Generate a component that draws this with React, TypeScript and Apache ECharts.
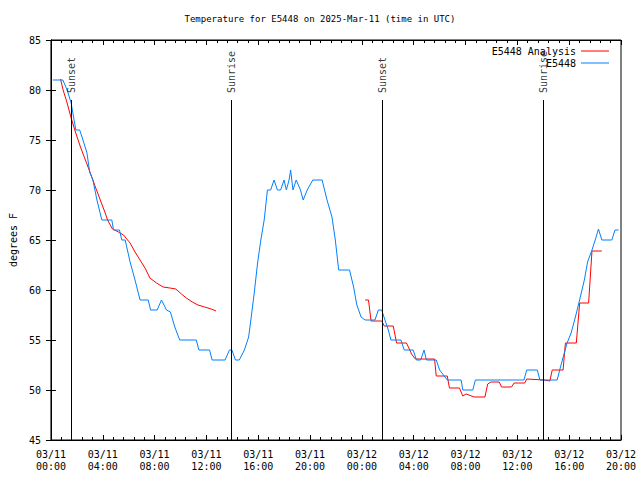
import React, { useEffect, useRef } from "react";
import * as echarts from "echarts";

const TITLE = "Temperature for E5448 on 2025-Mar-11 (time in UTC)";
const Y_NAME = "degrees F";
const SERIES_NAMES = ["E5448 Analysis", "E5448"];

// hours since 03/11 00:00 UTC
const OBS_HOURS = [0.15, 0.92, 1.25, 1.56, 1.76, 1.92, 2.22, 2.4, 2.78, 2.99, 3.24, 3.55, 3.93, 4.7, 4.83, 5.29, 5.47, 5.73, 6.11, 6.49, 6.88, 7.51, 7.69, 8.2, 8.53, 8.92, 9.22, 9.56, 9.94, 11.22, 11.42, 12.24, 12.44, 13.44, 13.78, 13.97, 14.24, 14.54, 14.93, 15.26, 15.43, 15.69, 15.95, 16.2, 16.46, 16.71, 16.96, 17.22, 17.48, 17.73, 17.99, 18.17, 18.38, 18.5, 18.68, 18.93, 19.26, 19.47, 19.78, 20.21, 20.93, 21.31, 21.69, 21.95, 22.21, 23.05, 23.36, 23.61, 23.94, 24.25, 25.01, 25.27, 25.53, 25.78, 26.04, 26.24, 27.01, 27.27, 27.96, 28.21, 28.54, 28.8, 28.98, 29.74, 30.0, 30.59, 31.66, 31.79, 32.56, 32.76, 36.51, 36.72, 37.54, 37.74, 39.07, 39.33, 39.58, 39.84, 40.15, 40.48, 40.86, 41.17, 41.42, 41.76, 42.01, 42.26, 42.52, 43.29, 43.54, 43.82];
const OBS_TEMPS = [81, 81, 80, 78.7, 77.2, 76, 76, 75.3, 73.7, 71.8, 71, 69, 67, 67, 66, 66, 65, 65, 62.8, 61, 59, 59, 58, 58, 59, 58, 57.8, 56.3, 55, 55, 54, 54, 53, 53, 54, 54, 53, 53, 54, 55.3, 57, 59.7, 62.7, 65, 67, 70, 70, 71, 70, 70, 71, 70, 71, 72, 70, 71, 70, 69, 70, 71, 71, 69, 67.3, 65, 62, 62, 60.3, 58.5, 57.3, 57, 57, 58, 58, 57, 56, 55, 55, 54, 54, 53, 53, 54, 53, 53, 52, 51, 51, 50, 50, 51, 51, 52, 52, 51, 51, 52.3, 53.5, 54.7, 55.7, 57.3, 59.3, 61, 62.8, 64, 65, 66.1, 65, 65, 66, 66];

const ANA_HOURS_1 = [0.74, 0.94, 1.25, 1.56, 1.89, 2.28, 2.66, 3.04, 3.43, 3.81, 4.19, 4.37, 4.75, 5.21, 5.6, 5.85, 6.11, 6.49, 6.88, 7.26, 7.64, 8.15, 8.66, 9.18, 9.64, 10.07, 10.45, 10.91, 11.35, 11.86, 12.37, 12.75];
const ANA_TEMPS_1 = [81.1, 80, 78.7, 77.2, 75.8, 74.3, 73, 71.7, 70.3, 69, 67.7, 67, 66.1, 65.8, 65.5, 65.1, 64.7, 63.8, 63, 62.2, 61.2, 60.7, 60.3, 60.2, 60.1, 59.6, 59.2, 58.8, 58.5, 58.3, 58.1, 57.9];
const ANA_HOURS_2 = [24.25, 24.51, 24.71, 25.53, 25.73, 26.42, 26.68, 27.44, 27.7, 27.83, 28.13, 29.61, 29.74, 30.59, 30.76, 31.53, 31.79, 32.04, 32.68, 33.5, 33.71, 33.96, 34.6, 34.78, 35.55, 35.75, 36.57, 36.72, 38.05, 38.51, 38.69, 39.53, 39.71, 40.55, 40.81, 41.5, 41.76, 42.52];
const ANA_TEMPS_2 = [59, 59, 56.9, 56.9, 56.4, 56.4, 54.7, 54.7, 54, 53.6, 53.1, 53.1, 51.4, 51.4, 50.2, 50.2, 49.4, 49.6, 49.3, 49.3, 50.6, 50.8, 50.8, 50.3, 50.3, 50.7, 50.7, 51.1, 51, 50.9, 52, 52, 54.7, 54.7, 58.7, 58.7, 63.9, 63.9];

const EVENT_HOURS = [1.56, 13.9, 25.6, 38.02];
const EVENT_LABELS = ["Sunset", "Sunrise", "Sunset", "Sunrise"];
const EVENT_TOP = 79;

const MONO = "DejaVu Sans Mono";
const LINE_ICON = "path://M0,0h0.01v0.01h-0.01z M0,4.5h28v1h-28z M0,9.99h0.01v0.01h-0.01z";

export default function App() {
  const ref = useRef<HTMLDivElement>(null);
  useEffect(() => {
    if (!ref.current) return;
    const chart = echarts.init(ref.current, null, { renderer: "svg" });
    const pad = (n: number) => (n < 10 ? "0" + n : "" + n);
    const fmt = (v: number) => {
      const d = 11 + Math.floor(v / 24);
      const h = Math.round(v % 24);
      return `03/${pad(d)}\n${pad(h)}:00`;
    };
    const obs = OBS_HOURS.map((h, i) => [h, OBS_TEMPS[i]]);
    const ana: any[] = ANA_HOURS_1.map((h, i) => [h, ANA_TEMPS_1[i]]);
    ana.push([18, "-"]);
    ANA_HOURS_2.forEach((h, i) => ana.push([h, ANA_TEMPS_2[i]]));

    const baseX = {
      type: "value",
      min: 0,
      max: 44,
      interval: 4,
      axisLine: { show: true, lineStyle: { color: "#000", width: 1 } },
      axisTick: { show: true, inside: true, length: 5, lineStyle: { color: "#000" } },
      minorTick: { show: true, splitNumber: 5, length: 3, lineStyle: { color: "#000" } },
      splitLine: { show: false },
    };
    const baseY = {
      type: "value",
      min: 45,
      max: 85,
      interval: 5,
      axisLine: { show: true, lineStyle: { color: "#000", width: 1 } },
      axisTick: { show: true, inside: true, length: 5, lineStyle: { color: "#000" } },
      splitLine: { show: false },
    };

    chart.setOption({
      animation: false,
      backgroundColor: "#fff",
      title: {
        text: TITLE,
        left: "center",
        top: 9,
        textStyle: { fontFamily: MONO, fontSize: 9, fontWeight: "normal", color: "#000" },
      },
      legend: {
        data: SERIES_NAMES.map((n) => ({ name: n, icon: LINE_ICON })),
        orient: "vertical",
        right: 31,
        top: 46,
        padding: 0,
        align: "right",
        itemWidth: 28,
        itemHeight: 10,
        itemGap: 2,
        textStyle: { fontFamily: MONO, fontSize: 10, color: "#000", lineHeight: 10 },
      },
      grid: { left: 47, right: 19, top: 40, bottom: 40, show: true, borderColor: "#000", borderWidth: 1, backgroundColor: "transparent" },
      xAxis: [
        {
          ...baseX,
          position: "bottom",
          axisLabel: { formatter: fmt, fontFamily: MONO, fontSize: 10, color: "#000", margin: 8, lineHeight: 12 },
        },
        { ...baseX, position: "top", axisLabel: { show: false } },
      ],
      yAxis: [
        {
          ...baseY,
          position: "left",
          name: Y_NAME,
          nameLocation: "middle",
          nameGap: 30,
          nameTextStyle: { fontFamily: MONO, fontSize: 10, color: "#000" },
          axisLabel: { fontFamily: MONO, fontSize: 10, color: "#000", margin: 10 },
        },
        { ...baseY, position: "right", axisLabel: { show: false } },
      ],
      series: [
        {
          name: SERIES_NAMES[0],
          type: "line",
          data: ana,
          symbol: "none",
          connectNulls: false,
          lineStyle: { color: "#ff0000", width: 1 },
          itemStyle: { color: "#ff0000" },
          z: 3,
        },
        {
          name: SERIES_NAMES[1],
          type: "line",
          data: obs,
          symbol: "none",
          lineStyle: { color: "#0080ff", width: 1 },
          itemStyle: { color: "#0080ff" },
          z: 4,
        },
        {
          name: "events",
          type: "scatter",
          data: EVENT_HOURS.map((h) => [h, EVENT_TOP]),
          symbolSize: 0,
          silent: true,
          z: 5,
          label: {
            show: true,
            formatter: (p: any) => EVENT_LABELS[p.dataIndex],
            position: "top",
            distance: 7,
            rotate: 90,
            align: "left",
            verticalAlign: "middle",
            fontFamily: MONO,
            fontSize: 10,
            color: "#000",
          },
          markLine: {
            silent: true,
            symbol: ["none", "none"],
            label: { show: false },
            lineStyle: { color: "#000", width: 1, type: "solid" },
            data: EVENT_HOURS.map((h) => [{ coord: [h, 45] }, { coord: [h, EVENT_TOP] }]),
          },
        },
      ],
    });
    return () => chart.dispose();
  }, []);
  return (
    <div style={{ position: "fixed", left: 0, top: 0, width: 640, height: 480, background: "#fff" }}>
      <div ref={ref} style={{ width: 640, height: 480 }} />
    </div>
  );
}
